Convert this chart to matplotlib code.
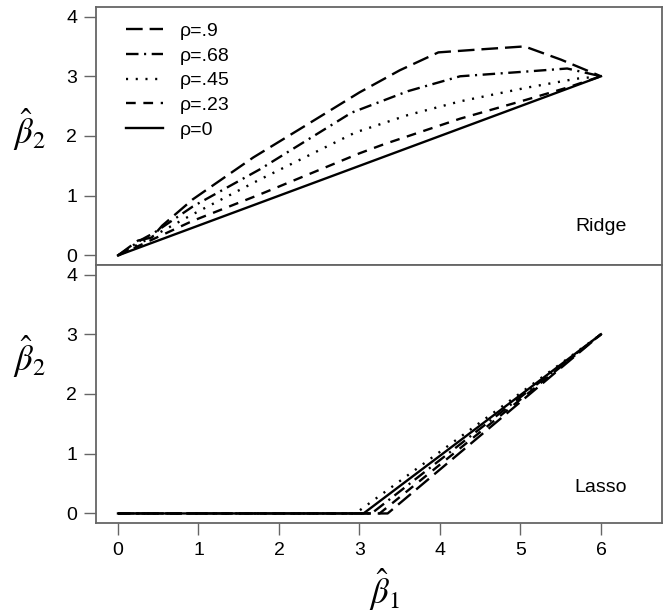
import numpy as np
import matplotlib
matplotlib.use("Agg")
import matplotlib.pyplot as plt

plt.rcParams['font.family'] = ['Liberation Sans', 'DejaVu Sans']
plt.rcParams['mathtext.fontset'] = 'stix'
plt.rcParams['lines.scale_dashes'] = False

# ridge paths (beta1, beta2)
ridge_x_90 = [0, 0.25, 0.42, 0.55, 0.93, 1.68, 2.3, 3.0, 3.5, 3.98, 4.5, 5.05, 5.5, 6.0]
ridge_y_90 = [0, 0.25, 0.30, 0.50, 0.94, 1.64, 2.15, 2.73, 3.1, 3.40, 3.45, 3.50, 3.28, 3.0]
ridge_x_68 = [0, 0.3, 0.45, 0.93, 1.76, 2.9, 3.6, 4.25, 5.08, 5.58, 6.0]
ridge_y_68 = [0, 0.27, 0.38, 0.82, 1.44, 2.39, 2.75, 3.0, 3.08, 3.13, 3.0]
ridge_x_45 = [0, 0.93, 1.76, 2.95, 3.6, 4.25, 5.08, 5.70, 6.0]
ridge_y_45 = [0, 0.69, 1.27, 2.06, 2.35, 2.58, 2.81, 2.96, 3.0]
ridge_x_23 = [0, 0.93, 1.76, 3.0, 3.3, 4.25, 5.08, 5.58, 6.0]
ridge_y_23 = [0, 0.58, 1.02, 1.71, 1.86, 2.29, 2.61, 2.81, 3.0]
ridge_x_0 = [0, 6.0]
ridge_y_0 = [0, 3.0]

# lasso paths: flat at zero up to the kink, then straight to (6, 3)
lasso_kink = {'.9': 3.35, '.68': 3.15, '.45': 2.95, '.23': 3.25, '0': 3.05}

labels = ['ρ=.9', 'ρ=.68', 'ρ=.45', 'ρ=.23', 'ρ=0']
keys = ['.9', '.68', '.45', '.23', '0']
dashes = [(12, 5), (9, 4, 1.5, 4), (1.5, 5.5), (7, 5.5), ()]
ridge = [(ridge_x_90, ridge_y_90), (ridge_x_68, ridge_y_68), (ridge_x_45, ridge_y_45),
         (ridge_x_23, ridge_y_23), (ridge_x_0, ridge_y_0)]

W, H = 666, 615
fig = plt.figure(figsize=(W / 100, H / 100), dpi=100)
ax1 = fig.add_axes([96 / W, (H - 265) / H, 566 / W, 258 / H])
ax2 = fig.add_axes([96 / W, (H - 523) / H, 566 / W, 258 / H])

gray = '#666666'
for ax in (ax1, ax2):
    ax.set_xlim(-0.273, 6.758)
    ax.set_ylim(-0.16, 4.16)
    ax.set_yticks([0, 1, 2, 3, 4])
    for s in ax.spines.values():
        s.set_color(gray)
        s.set_linewidth(1.3)
    ax.tick_params(axis='both', length=8.5, width=1.0, color=gray, labelsize=14, pad=5)
ax1.set_xticks([])
ax2.set_xticks(range(7))
ax2.tick_params(axis='x', pad=5)

for (xs, ys), d, lab in zip(ridge, dashes, labels):
    ln, = ax1.plot(xs, ys, color='black', lw=1.7, label=lab)
    if d:
        ln.set_dashes(d)

for k, d in zip(keys, dashes):
    ln, = ax2.plot([0, lasso_kink[k], 6.0], [0, 0, 3.0], color='black', lw=1.7)
    if d:
        ln.set_dashes(d)

ax1.legend(loc='upper left', bbox_to_anchor=(0.025, 1.0), frameon=False, fontsize=14,
           handlelength=1.9, handletextpad=0.9, labelspacing=0.36, borderaxespad=0.4)

ax1.text(6.0, 0.49, 'Ridge', fontsize=14, ha='center', va='center')
ax2.text(6.0, 0.44, 'Lasso', fontsize=14, ha='center', va='center')

fig.text(30 / W, 1 - 130 / H, r'$\hat{\beta}_2$', fontsize=25, ha='center', va='center')
fig.text(30 / W, 1 - 357 / H, r'$\hat{\beta}_2$', fontsize=25, ha='center', va='center')
fig.text(385 / W, 1 - 590 / H, r'$\hat{\beta}_1$', fontsize=25, ha='center', va='center')

fig.savefig('out.png', dpi=100)
